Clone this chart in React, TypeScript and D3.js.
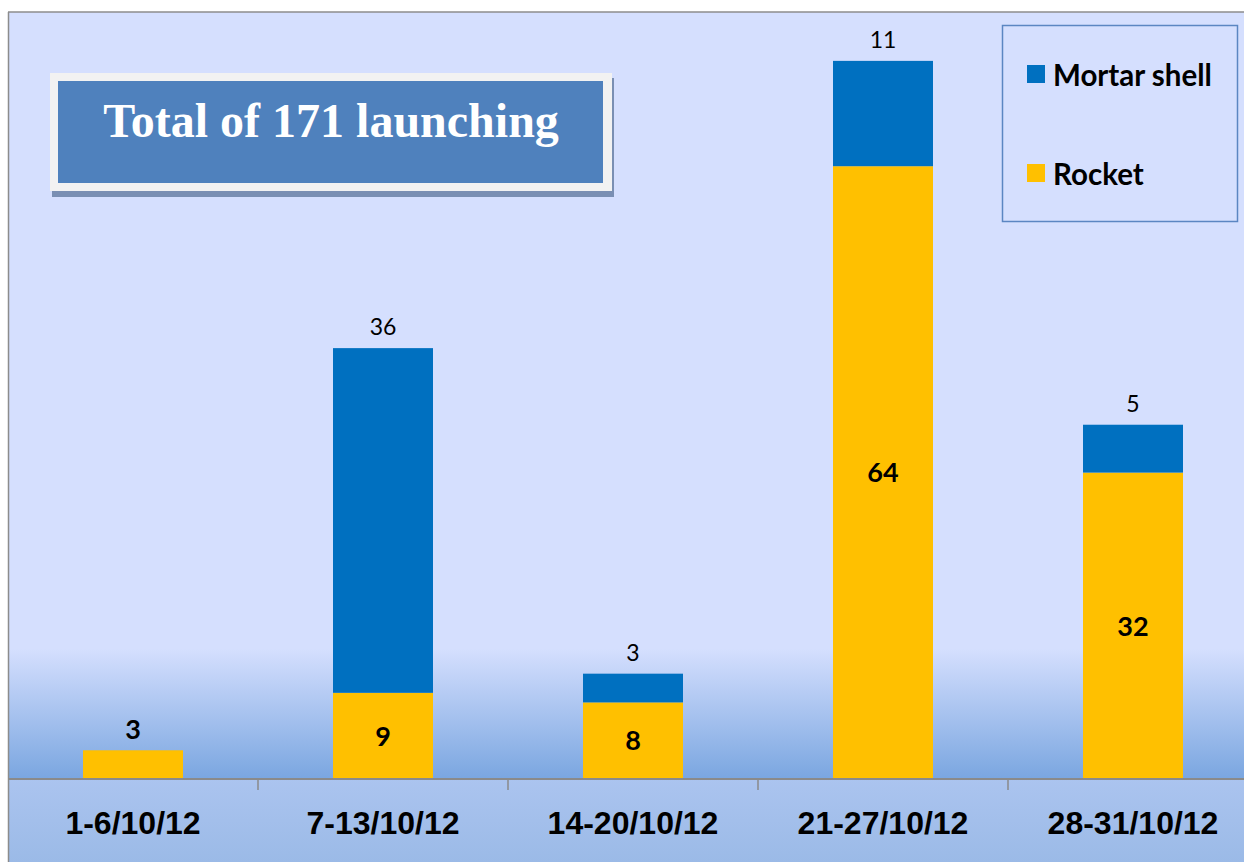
import React from "react";
import * as d3 from "d3";

const categories = ["1-6/10/12", "7-13/10/12", "14-20/10/12", "21-27/10/12", "28-31/10/12"];
const rocket = [3, 9, 8, 64, 32];
const mortar = [0, 36, 3, 11, 5];
const seriesNames = ["Mortar shell", "Rocket"];
const titleText = "Total of 171 launching";

const W = 1244;
const H = 862;
const MORTAR = "#0070c0";
const ROCKET = "#ffc000";

export default function App() {
  const x = d3.scaleBand<string>().domain(categories).range([8, 1258]).paddingInner(0).paddingOuter(0);
  const barW = 100;
  const y = d3.scaleLinear().domain([0, 80]).range([779, 13]);
  const base = y(0);

  const stacked = d3.stack<any>().keys(["rocket", "mortar"])(
    categories.map((c, i) => ({ cat: c, rocket: rocket[i], mortar: mortar[i] }))
  );

  const boundaries = categories.slice(1).map((c) => x(c)!);

  return (
    <svg width={W} height={H} style={{ position: "absolute", left: 0, top: 0 }}>
      <defs>
        <linearGradient id="plotGrad" x1="0" y1="0" x2="0" y2="1">
          <stop offset="0" stopColor="#d5dffe" />
          <stop offset="0.83" stopColor="#d5dffe" />
          <stop offset="1" stopColor="#7aa6e0" />
        </linearGradient>
        <linearGradient id="axisGrad" x1="0" y1="0" x2="0" y2="1">
          <stop offset="0" stopColor="#abc4ef" />
          <stop offset="1" stopColor="#9bbae7" />
        </linearGradient>
      </defs>
      <rect x={0} y={0} width={W} height={H} fill="#ffffff" />
      <rect x={8} y={12} width={W - 8} height={base - 12} fill="url(#plotGrad)" />
      <rect x={8} y={base} width={W - 8} height={H - base} fill="url(#axisGrad)" />
      <line x1={8} y1={12} x2={W} y2={12} stroke="#8c8c8c" strokeWidth={1.5} />
      <line x1={8.5} y1={12} x2={8.5} y2={H} stroke="#8c8c8c" strokeWidth={1.5} />

      {stacked.map((s) =>
        s.map((d, i) => {
          if (d[1] - d[0] <= 0) return null;
          const cx = x(categories[i])! + x.bandwidth() / 2;
          return (
            <rect
              key={s.key + i}
              x={cx - barW / 2}
              y={y(d[1])}
              width={barW}
              height={y(d[0]) - y(d[1])}
              fill={s.key === "rocket" ? ROCKET : MORTAR}
            />
          );
        })
      )}

      <line x1={8} y1={base} x2={W} y2={base} stroke="#8a8a8a" strokeWidth={2} />
      {boundaries.map((bx, i) => (
        <line key={i} x1={bx} y1={base} x2={bx} y2={base + 11} stroke="#8a8a8a" strokeWidth={1.5} />
      ))}

      {categories.map((c, i) => {
        const cx = x(c)! + x.bandwidth() / 2;
        const rTop = y(rocket[i]);
        const rH = base - rTop;
        const total = rocket[i] + mortar[i];
        return (
          <g key={c}>
            {rH > 40 ? (
              <text x={cx} y={(rTop + base) / 2} dy="0.36em" textAnchor="middle" style={{ fontFamily: "Lato", fontWeight: 700, fontSize: 27 }} fill="#000">
                {rocket[i]}
              </text>
            ) : (
              <text x={cx} y={rTop - 11} textAnchor="middle" style={{ fontFamily: "Lato", fontWeight: 700, fontSize: 27 }} fill="#000">
                {rocket[i]}
              </text>
            )}
            {mortar[i] > 0 && (
              <text x={cx} y={y(total) - 13} textAnchor="middle" style={{ fontFamily: "Lato", fontSize: 23 }} fill="#000">
                {mortar[i]}
              </text>
            )}
            <text x={cx} y={822} dy="0.36em" textAnchor="middle" style={{ fontFamily: "'Liberation Sans', Arial, sans-serif", fontWeight: 700, fontSize: 32 }} fill="#000">
              {c}
            </text>
          </g>
        );
      })}

      {/* Title box */}
      <rect x={52} y={78} width={562} height={119} fill="#7a8fb3" />
      <rect x={50} y={73} width={562} height={118} fill="#f2f2f2" />
      <rect x={58} y={81} width={545} height={102} fill="#4f81bd" />
      <text x={331} y={137} textAnchor="middle" style={{ fontFamily: "'Liberation Serif', 'Times New Roman', serif", fontWeight: 700, fontSize: 48 }} fill="#ffffff">
        {titleText}
      </text>

      {/* Legend */}
      <rect x={1002.5} y={25.5} width={235} height={196} fill="none" stroke="#5b86c2" strokeWidth={1.5} />
      {seriesNames.map((n, i) => (
        <g key={n}>
          <rect x={1027} y={i === 0 ? 65 : 164} width={18} height={18} fill={i === 0 ? MORTAR : ROCKET} />
          <text x={1053} y={i === 0 ? 75 : 174} dy="0.36em" style={{ fontFamily: "Lato", fontWeight: 700, fontSize: 29.5 }} fill="#000">
            {n}
          </text>
        </g>
      ))}
    </svg>
  );
}
